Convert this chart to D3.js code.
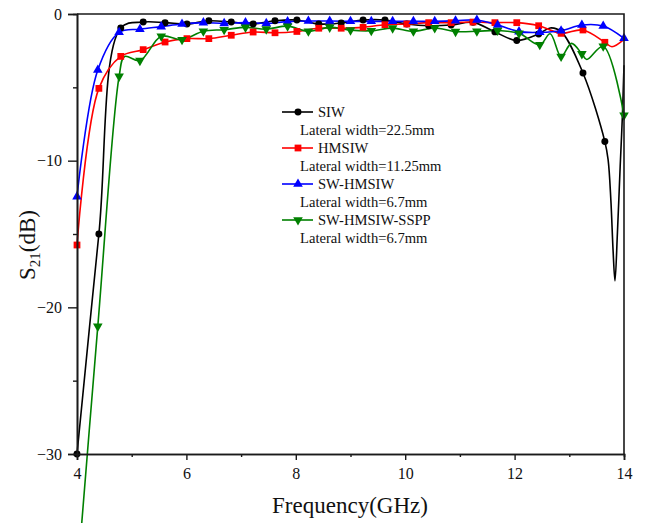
<!DOCTYPE html>
<html>
<head>
<meta charset="utf-8">
<script src="https://cdn.jsdelivr.net/npm/d3@7"></script>
<style>
  html, body { margin: 0; padding: 0; background: #fff; }
  svg { display: block; }
  text { font-family: "Liberation Serif", "Times New Roman", serif; fill: #111; }
</style>
</head>
<body>
<svg id="chart" width="645" height="523"></svg>
<script>
// Marker frequencies (GHz)
const freqA = [4.00, 4.40, 4.80, 5.21, 5.61, 6.01, 6.41, 6.82, 7.22, 7.62, 8.02, 8.42, 8.83,
               9.23, 9.63, 10.03, 10.43, 10.84, 11.24, 11.64, 12.04, 12.44, 12.85, 13.25, 13.65];
const freqB = [4.00, 4.38, 4.77, 5.15, 5.54, 5.92, 6.31, 6.69, 7.08, 7.46, 7.85, 8.23, 8.62, 9.00,
               9.38, 9.77, 10.15, 10.54, 10.92, 11.31, 11.69, 12.08, 12.46, 12.85, 13.23, 13.62, 14.00];

// S21 (dB) at the marker frequencies
const siwDb   = [-30.0, -15.0, -0.95, -0.55, -0.59, -0.68, -0.46, -0.55, -0.68, -0.46, -0.41, -0.68, -0.61,
                 -0.41, -0.41, -0.68, -0.80, -0.75, -0.57, -1.22, -1.80, -1.36, -1.20, -4.02, -8.70];
const hmsiwDb = [-15.75, -5.07, -2.89, -2.43, -1.91, -1.68, -1.68, -1.45, -1.23, -1.28, -1.19, -0.97, -0.97,
                 -0.91, -0.73, -0.68, -0.59, -0.59, -0.55, -0.59, -0.59, -0.80, -1.32, -1.09, -1.93];
const swDb    = [-12.45, -3.82, -1.25, -1.04, -0.86, -0.68, -0.59, -0.64, -0.59, -0.64, -0.52, -0.48, -0.48,
                 -0.50, -0.50, -0.50, -0.50, -0.50, -0.46, -0.41, -0.75, -1.20, -1.25, -1.14, -0.75, -0.82, -1.66];
const ssppDb  = [-38.7, -21.3, -4.25, -3.18, -1.52, -1.75, -1.18, -1.07, -0.91, -1.03, -0.83, -1.18, -0.91,
                 -1.10, -1.14, -0.96, -1.18, -0.95, -1.20, -1.18, -1.12, -1.32, -2.10, -2.90, -2.72, -2.20, -6.90];

// Additional sweep samples between markers (frequency, dB)
const siwExtraFreq   = [12.65, 13.71, 13.76, 13.80, 13.835, 13.88, 13.93, 13.97, 14.00];
const siwExtraDb     = [-0.95, -9.95, -12.7, -16.1, -18.2, -14.9, -10.4, -7.0, -3.5];
const hmsiwExtraFreq = [13.78, 14.00];
const hmsiwExtraDb   = [-2.23, -1.73];
const ssppExtraFreq  = [4.87, 12.65, 13.04, 13.32];
const ssppExtraDb    = [-2.90, -1.35, -2.00, -3.10];

const seriesNames = ["SIW", "HMSIW", "SW-HMSIW", "SW-HMSIW-SSPP"];
const seriesNotes = ["Lateral width=22.5mm", "Lateral width=11.25mm", "Lateral width=6.7mm", "Lateral width=6.7mm"];
const xTicks = [4, 6, 8, 10, 12, 14];
const xMinor = [5, 7, 9, 11, 13];
const yTicks = [0, -10, -20, -30];
const yMinor = [-5, -15, -25];

const zip = (f, v) => f.map((d, i) => [d, v[i]]);
const merge = (a, b) => a.concat(b).sort((p, q) => p[0] - q[0]);

const series = [
  { name: seriesNames[0], note: seriesNotes[0], color: "#000000", marker: "circle",
    marks: zip(freqA, siwDb), line: merge(zip(freqA, siwDb), zip(siwExtraFreq, siwExtraDb)) },
  { name: seriesNames[1], note: seriesNotes[1], color: "#ff0000", marker: "square",
    marks: zip(freqA, hmsiwDb), line: merge(zip(freqA, hmsiwDb), zip(hmsiwExtraFreq, hmsiwExtraDb)) },
  { name: seriesNames[2], note: seriesNotes[2], color: "#0000ff", marker: "triUp",
    marks: zip(freqB, swDb), line: zip(freqB, swDb) },
  { name: seriesNames[3], note: seriesNotes[3], color: "#008000", marker: "triDown",
    marks: zip(freqB, ssppDb), line: merge(zip(freqB, ssppDb), zip(ssppExtraFreq, ssppExtraDb)) }
];

const svg = d3.select("#chart");
const x = d3.scaleLinear().domain([4, 14]).range([77, 624]);
const y = d3.scaleLinear().domain([-30, 0]).range([454, 14]);

const symbolFor = {
  circle:  d3.symbol().type(d3.symbolCircle).size(38),
  square:  d3.symbol().type(d3.symbolSquare).size(46),
  triUp:   d3.symbol().type(d3.symbolTriangle).size(40),
  triDown: d3.symbol().type(d3.symbolTriangle).size(40)
};
const rot = m => (m === "triDown" ? " rotate(180)" : "");

// Curves
const line = d3.line().x(d => x(d[0])).y(d => y(d[1])).curve(d3.curveCatmullRom.alpha(0.5));
const plot = svg.append("g");
series.forEach(s => {
  plot.append("path").datum(s.line)
    .attr("d", line).attr("fill", "none")
    .attr("stroke", s.color).attr("stroke-width", 1.6);
});
series.forEach(s => {
  plot.selectAll(null).data(s.marks).enter().append("path")
    .attr("d", symbolFor[s.marker])
    .attr("transform", d => `translate(${x(d[0])},${y(d[1])})${rot(s.marker)}`)
    .attr("fill", s.color);
});

// Frame and axes
const axisColor = "#1a1a1a";
svg.append("path")
  .attr("d", `M${x(4)},${y(0)}H${x(14)}V${y(-30)}`)
  .attr("fill", "none").attr("stroke", axisColor).attr("stroke-width", 1.6);

svg.append("g").attr("transform", `translate(0,${y(-30)})`)
  .call(d3.axisBottom(x).tickValues(xTicks).tickSize(6).tickPadding(8).tickFormat(d3.format("d")));
svg.append("g").attr("transform", `translate(0,${y(-30)})`)
  .call(d3.axisBottom(x).tickValues(xMinor).tickSize(3).tickFormat(""));

svg.append("g").attr("transform", `translate(${x(4)},0)`)
  .call(d3.axisLeft(y).tickValues(yTicks).tickSize(9).tickPadding(6)
        .tickFormat(d => d < 0 ? "\u2212" + Math.abs(d) : String(d)));
svg.append("g").attr("transform", `translate(${x(4)},0)`)
  .call(d3.axisLeft(y).tickValues(yMinor).tickSize(4).tickFormat(""));

svg.selectAll(".domain").attr("stroke", axisColor).attr("stroke-width", 1.6);
svg.selectAll(".tick line").attr("stroke", axisColor).attr("stroke-width", 1.4);
svg.selectAll(".tick text")
  .style("font-family", "'Liberation Serif', serif").style("font-size", "16px").attr("fill", "#222");

// Axis titles
svg.append("text").attr("x", 350).attr("y", 513).attr("text-anchor", "middle")
  .style("font-size", "23px").text("Frequency(GHz)");
const yt = svg.append("text").attr("transform", "translate(35,245) rotate(-90)")
  .attr("text-anchor", "middle").style("font-size", "23px");
yt.append("tspan").text("S");
yt.append("tspan").attr("dy", 5).style("font-size", "15px").text("21");
yt.append("tspan").attr("dy", -5).text("(dB)");

// Legend
const legend = svg.append("g").attr("transform", "translate(282,112)");
series.forEach((s, i) => {
  const g = legend.append("g").attr("transform", `translate(0,${i * 36})`);
  g.append("line").attr("x1", 0).attr("x2", 31).attr("y1", 0).attr("y2", 0)
    .attr("stroke", s.color).attr("stroke-width", 1.6);
  g.append("path").attr("d", symbolFor[s.marker])
    .attr("transform", `translate(16,0)${rot(s.marker)}`).attr("fill", s.color);
  g.append("text").attr("x", 36).attr("y", 5).style("font-size", "14.6px").text(s.name);
  g.append("text").attr("x", 18).attr("y", 23).style("font-size", "14.6px").text(s.note);
});
</script>
</body>
</html>
